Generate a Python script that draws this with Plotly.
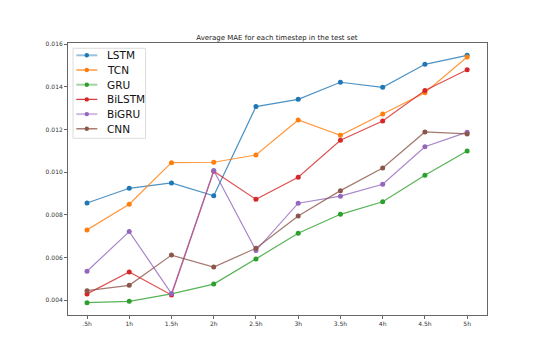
import plotly.graph_objects as go

timesteps = [".5h", "1h", "1.5h", "2h", "2.5h", "3h", "3.5h", "4h", "4.5h", "5h"]

lstm = [0.00856, 0.00925, 0.00950, 0.00890, 0.01308, 0.01342, 0.01422, 0.01398, 0.01506, 0.01548]
tcn = [0.00730, 0.00850, 0.01045, 0.01047, 0.01081, 0.01245, 0.01173, 0.01273, 0.01373, 0.01540]
gru = [0.00389, 0.00395, 0.00430, 0.00476, 0.00594, 0.00714, 0.00803, 0.00862, 0.00986, 0.01100]
bilstm = [0.00430, 0.00533, 0.00425, 0.01005, 0.00873, 0.00977, 0.01150, 0.01240, 0.01383, 0.01481]
bigru = [0.00536, 0.00722, 0.00431, 0.01008, 0.00633, 0.00855, 0.00888, 0.00944, 0.01120, 0.01188]
cnn = [0.00445, 0.00470, 0.00612, 0.00556, 0.00644, 0.00795, 0.00914, 0.01020, 0.01189, 0.01180]

series = [
    ("LSTM", lstm, "31,119,180", 0.45),
    ("TCN", tcn, "255,127,14", 0.9),
    ("GRU", gru, "44,160,44", 0.45),
    ("BiLSTM", bilstm, "214,39,40", 0.9),
    ("BiGRU", bigru, "148,103,189", 0.45),
    ("CNN", cnn, "140,86,75", 0.9),
]

fig = go.Figure()
for name, vals, rgb, _ in series:
    fig.add_trace(go.Scatter(
        x=list(range(len(timesteps))), y=vals, name=name, mode="lines+markers",
        line=dict(color=f"rgba({rgb},0.8)", width=1.2),
        marker=dict(color=f"rgb({rgb})", size=5),
        showlegend=False,
    ))

# hand-made legend (matplotlib style, tighter rows than plotly's own legend)
PW, PH = 419, 272  # plot area size in px
shapes = [dict(type="rect", xref="paper", yref="paper", layer="above",
               x0=5 / PW, x1=77.6 / PW, y0=1 - 95.3 / PH, y1=1 - 5.3 / PH,
               line=dict(color="#dcdcdc", width=1), fillcolor="rgba(255,255,255,0.85)")]
annotations = []
for i, (name, _, rgb, a) in enumerate(series):
    yc = 1 - (12.3 + 14.7 * i) / PH
    shapes.append(dict(type="line", xref="paper", yref="paper", layer="above",
                       x0=8.3 / PW, x1=29.3 / PW, y0=yc, y1=yc,
                       line=dict(color=f"rgba({rgb},{a})", width=2 if a < 0.5 else 1.3)))
    shapes.append(dict(type="circle", xref="paper", yref="paper", layer="above",
                       xsizemode="pixel", ysizemode="pixel",
                       xanchor=18.8 / PW, yanchor=yc, x0=-2.2, x1=2.2, y0=-2.2, y1=2.2,
                       fillcolor=f"rgb({rgb})", line=dict(width=0)))
    annotations.append(dict(text=name, xref="paper", yref="paper", x=37.3 / PW, y=yc,
                            xanchor="left", yanchor="middle", showarrow=False,
                            font=dict(size=10.5, color="#111")))

axis_common = dict(
    showgrid=False, zeroline=False, showline=True, linecolor="#666", linewidth=1,
    mirror=True, ticks="outside", ticklen=3, tickcolor="#666",
    tickfont=dict(size=6, color="#333"),
)

fig.update_layout(
    width=540, height=360, autosize=False,
    paper_bgcolor="white", plot_bgcolor="white",
    font=dict(family="DejaVu Sans", color="#222"),
    margin=dict(l=60, r=61, t=35, b=53),
    title=dict(text="Average MAE for each timestep in the test set",
               x=0.498, xanchor="center", y=0.917, yanchor="middle",
               font=dict(size=7, color="#222")),
    xaxis=dict(tickvals=list(range(len(timesteps))), ticktext=timesteps,
               range=[-0.45, 9.47], **axis_common),
    yaxis=dict(range=[0.00331, 0.01606], tickvals=[0.004, 0.006, 0.008, 0.010, 0.012, 0.014, 0.016],
               tickformat=".3f", **axis_common),
    shapes=shapes, annotations=annotations, showlegend=False,
)

fig.write_html("out.html")
